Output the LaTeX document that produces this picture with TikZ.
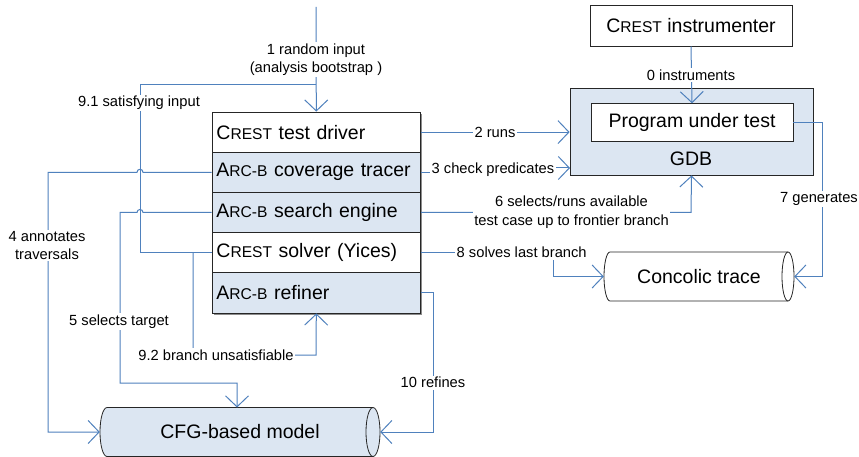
\documentclass[tikz,border=0pt]{standalone}
\usepackage{fontspec}
\setmainfont{Liberation Sans}
\usepackage{graphicx}
\usetikzlibrary{arrows.meta}
\definecolor{lnk}{RGB}{79,129,189}
\definecolor{lblue}{RGB}{220,230,242}
\newcommand{\myBig}{\fontsize{19.5}{22}\selectfont}
\newcommand{\mySmall}{\fontsize{14.7}{18.5}\selectfont}
\newcommand{\smc}[1]{\scalebox{0.8}{#1}}
\tikzset{
  boxline/.style={draw=black!85, line width=0.8pt},
  row/.style={boxline, minimum width=208.7pt, minimum height=40.2pt, inner ysep=0pt, inner xsep=4.5pt, text width=199.7pt, align=left, font=\myBig},
  blrow/.style={row, fill=lblue},
  whrow/.style={row, fill=white},
  plainbox/.style={boxline, inner sep=0pt, font=\myBig},
  link/.style={draw=lnk, line width=1pt, -{Straight Barb[length=11pt,width=23pt]}},
  wire/.style={draw=lnk, line width=1pt},
  lbl/.style={fill=white, inner sep=1.5pt, font=\mySmall, align=center},
}
\newcommand{\hcyl}[6]{%
  \fill[#6] (#1,{#3-#4}) -- (#2,{#3-#4}) -- (#2,{#3+#4}) -- (#1,{#3+#4})
    .. controls ({#1-0.5523*#5},{#3+#4}) and ({#1-#5},{#3+0.5523*#4}) .. ({#1-#5},#3)
    .. controls ({#1-#5},{#3-0.5523*#4}) and ({#1-0.5523*#5},{#3-#4}) .. cycle;
  \fill[#6] (#2,#3) ellipse [x radius=#5, y radius=#4];
  \draw[boxline] (#2,{#3-#4}) -- (#1,{#3-#4})
    .. controls ({#1-0.5523*#5},{#3-#4}) and ({#1-#5},{#3-0.5523*#4}) .. ({#1-#5},#3)
    .. controls ({#1-#5},{#3+0.5523*#4}) and ({#1-0.5523*#5},{#3+#4}) .. (#1,{#3+#4}) -- (#2,{#3+#4});
  \draw[boxline] (#2,#3) ellipse [x radius=#5, y radius=#4];
}
\begin{document}
\begin{tikzpicture}[x=1pt,y=-1pt]
\useasboundingbox (0,0) rectangle (859,457);
\fill[white] (0,0) rectangle (859,457);

% stack of components
\fill[black!45] (213.6,113.6) rectangle (421.9,314.7);
\node[whrow] (driver)  at (316.3,132.1) {C\smc{REST} test driver};
\node[blrow] (tracer)  at (316.3,172.3) {A\smc{RC-B} coverage tracer};
\node[blrow] (search)  at (316.3,212.5) {A\smc{RC-B} search engine};
\node[whrow] (solver)  at (316.3,252.7) {C\smc{REST} solver (Yices)};
\node[blrow] (refiner) at (316.3,292.9) {A\smc{RC-B} refiner};

% right side boxes
\node[plainbox, fill=white, minimum width=202pt, minimum height=40.3pt] (instr) at (691,25.9) {C\smc{REST} instrumenter};
\node[plainbox, fill=lblue, minimum width=243pt, minimum height=87pt] (gdb) at (691.5,131.5) {};
\node[font=\myBig, inner sep=0pt] (gdbtext) at (691,159) {GDB};
\node[plainbox, fill=white, minimum width=202pt, minimum height=37.6pt] (put) at (692,122.5) {Program under test};

% cylinders
\hcyl{610}{788}{276.5}{24.5}{6}{white}
\node[font=\myBig, minimum width=190pt, minimum height=49pt, inner sep=0pt] (trace) at (699,276.5) {Concolic trace};
\hcyl{107}{373}{432}{24.5}{7}{lblue}
\node[font=\myBig, minimum width=280pt, minimum height=49pt, inner sep=0pt] (cfg) at (240,432) {CFG-based model};

% connectors
\coordinate (start) at (316,7);
\draw[link] (instr.south) -- (put.north);
\draw[link] (start) -- (driver.north);
\draw[wire] (solver.west) -- (140,252.7) -- (140,85) -- (316,85);
\draw[link] (193,252.7) -- (193,355) -- (316,355) -- (refiner.south);
\draw[link] (tracer.west) -- (143,172.3) .. controls (143,168.3) and (137,168.3) .. (137,172.3)
   -- (48,172.3) -- (48,432) -- (cfg.west);
\draw[link] (search.west) -- (143,212.5) .. controls (143,208.5) and (137,208.5) .. (137,212.5)
   -- (120,212.5) -- (120,383) -- (237,383) -- (237,407.5);
\draw[link] (refiner.east) -- (433,292.9) -- (433,432) -- (cfg.east);
\draw[link] (driver.east) -- (driver.east -| gdb.west);
\draw[link] (tracer.east) -- (493,172.3) -- (493,168) -- (570,168);
\draw[link] (search.east) -- (691,212.5) -- (gdb.south);
\draw[link] (put.east) -- (822,122.5) -- (822,276.5) -- (trace.east);
\draw[link] (solver.east) -- (553,252.7) -- (553,276.5) -- (trace.west);

% labels
\node[lbl] (l0) at (691,75) {0 instruments};
\node[lbl] (l1) at (316,59.5) {1 random input\\(analysis bootstrap )};
\node[lbl] (l91) at (139,103) {9.1 satisfying input};
\node[lbl] (l2) at (495,132.1) {2 runs};
\node[lbl] (l3) at (493,170) {3 check predicates};
\node[lbl] (l4) at (47,245.5) {4 annotates\\traversals};
\node[lbl] (l5) at (119,321.7) {5 selects target};
\node[lbl] (l6) at (571.5,212.3) {6 selects/runs available\\test case up to frontier branch};
\node[lbl, inner xsep=0.5pt] (l7) at (819,199) {7 generates};
\node[lbl] (l8) at (521.7,252.7) {8 solves last branch};
\node[lbl] (l92) at (216,355) {9.2 branch unsatisfiable};
\node[lbl] (l10) at (433,382.7) {10 refines};
\end{tikzpicture}
\end{document}
